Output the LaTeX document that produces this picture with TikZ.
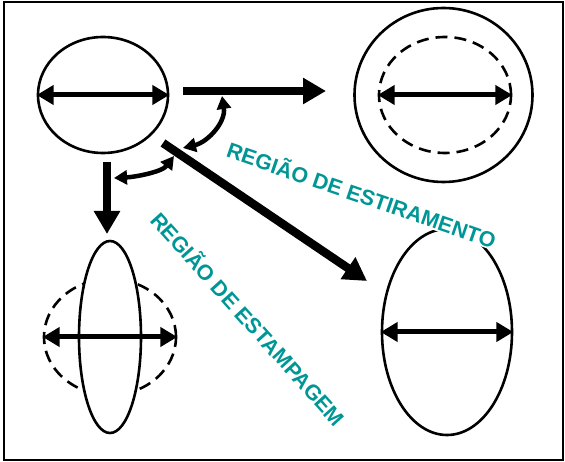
\documentclass[tikz,border=0pt]{standalone}
\usepackage{fontspec}
\setmainfont{Liberation Sans}
\usetikzlibrary{arrows.meta,shapes.geometric}
\definecolor{tealtext}{RGB}{0,150,150}
\begin{document}
\begin{tikzpicture}[x=1pt,y=-1pt,
  oval/.style={draw, line width=2.6pt, inner sep=0pt, ellipse},
  dashoval/.style={oval, dash pattern=on 12pt off 7pt},
  dbl/.style={line width=5pt, {Triangle[length=17pt,width=19pt]}-{Triangle[length=17pt,width=19pt]}},
  bigarrow/.style={line width=8.5pt, -{Triangle[length=23pt,width=25pt]}},
  curv/.style={line width=4.5pt, {Triangle[length=13pt,width=14pt]}-{Triangle[length=13pt,width=14pt]}},
  lbl/.style={font=\bfseries\fontsize{21.5}{21.5}\selectfont, text=tealtext, fill=white, inner sep=1pt}]
\useasboundingbox (0,0) rectangle (565,462);
\draw[line width=2.4pt] (4,2) rectangle (563,460);
% top-left circle
\node[oval, minimum width=130pt, minimum height=116pt] (c1) at (103,95) {};
\draw[dbl] (c1.west) -- (c1.east);
% top-right
\node[oval, minimum width=178pt, minimum height=174pt] (c2) at (443.5,95) {};
\node[dashoval, minimum width=132pt, minimum height=116pt] (d2) at (445,95) {};
\draw[dbl] (d2.west) -- (d2.east);
% bottom-left
\node[dashoval, minimum width=132pt, minimum height=116pt] (d3) at (110,337) {};
\node[oval, fill=white, minimum width=62pt, minimum height=192pt] (e3) at (110,337) {};
\draw[dbl] (d3.west) -- (d3.east);
% bottom-right
\node[oval, minimum width=130pt, minimum height=206pt] (e4) at (447,332) {};
\draw[dbl] (e4.west) -- (e4.east);
% big arrows
\coordinate (h0) at (183,91); \coordinate (h1) at (326,91);
\draw[bigarrow] (h0) -- (h1);
\coordinate (g0) at (163,143); \coordinate (g1) at (367,281);
\draw[bigarrow] (g0) -- (g1);
\coordinate (v0) at (107,162); \coordinate (v1) at (107,234);
\draw[bigarrow] (v0) -- (v1);
% curved arrows
\coordinate (a0) at (222,96); \coordinate (a1) at (183,148);
\draw[curv] (a0) .. controls (226,122) and (208,142) .. (a1);
\coordinate (b0) at (174,156); \coordinate (b1) at (114,178);
\draw[curv] (b0) .. controls (162,172) and (135,177) .. (b1);
% labels
\node[lbl, rotate=-19] (t1) at (362,194) {REGIÃO DE ESTIRAMENTO};
\node[lbl, rotate=-48] (t2) at (249,318) {REGIÃO DE ESTAMPAGEM};
\end{tikzpicture}
\end{document}
